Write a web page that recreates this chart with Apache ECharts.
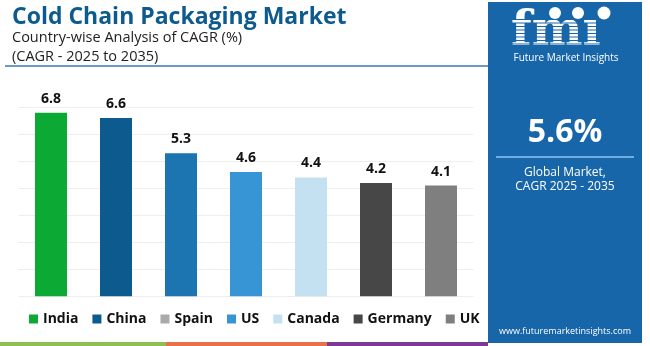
<!DOCTYPE html>
<html>
<head>
<meta charset="utf-8">
<script src="https://cdn.jsdelivr.net/npm/echarts@6/dist/echarts.min.js"></script>
<style>
html,body{margin:0;padding:0;background:#fff;}
#chart{width:650px;height:346px;}
</style>
</head>
<body>
<div id="chart"></div>
<script>
const categories = ['India', 'China', 'Spain', 'US', 'Canada', 'Germany', 'UK'];
const values = [6.8, 6.6, 5.3, 4.6, 4.4, 4.2, 4.1];
const barColors = ['#0caa35', '#0d5a8e', '#1c74b0', '#3795d6', '#c4e1f2', '#474747', '#7f7f7f'];
const legendColors = ['#0caa35', '#0d5a8e', '#aaaaaa', '#3795d6', '#c4e1f2', '#474747', '#7f7f7f'];
const yTicks = [0, 1, 2, 3, 4, 5, 6, 7];
const globalCagr = '5.6%';

const chart = echarts.init(document.getElementById('chart'));
const FONT = '"Open Sans", "DejaVu Sans", sans-serif';
const series = categories.map((c, i) => ({
  name: c,
  type: 'bar',
  barWidth: 32,
  barGap: '-100%',
  itemStyle: { color: barColors[i] },
  label: {
    show: true, position: 'top', distance: 7,
    color: '#111', fontWeight: 'bold', fontSize: 14, fontFamily: FONT,
    formatter: p => p.value.toFixed(1)
  },
  data: categories.map((_, j) => j === i ? values[i] : '-')
}));

const panelX = 488, panelW = 154, PC = '#1866aa';
const cx = panelX + panelW / 2;
const graphics = [
  { type: 'text', x: 12, y: 17, style: { text: 'Cold Chain Packaging Market', fill: '#0d5a8e', font: 'bold 23px ' + FONT, verticalAlign: 'middle' } },
  { type: 'text', x: 12, y: 38, style: { text: 'Country-wise Analysis of CAGR (%)', fill: '#222', font: '14.5px ' + FONT, verticalAlign: 'middle' } },
  { type: 'text', x: 12, y: 57, style: { text: '(CAGR - 2025 to 2035)', fill: '#222', font: '14.5px ' + FONT, verticalAlign: 'middle' } },
  { type: 'line', shape: { x1: 5, y1: 66, x2: panelX, y2: 66 }, style: { stroke: '#3a78b5', lineWidth: 1.5 } },
  { type: 'rect', shape: { x: panelX, y: 2, width: panelW, height: 341 }, style: { fill: PC } },
  { type: 'rect', shape: { x: 0, y: 342, width: 166, height: 4 }, style: { fill: '#8cc152' } },
  { type: 'rect', shape: { x: 166, y: 342, width: 161, height: 4 }, style: { fill: '#e8704a' } },
  { type: 'rect', shape: { x: 327, y: 342, width: 161, height: 4 }, style: { fill: '#7b3a96' } },
  // logo
  { type: 'text', x: 511, y: 33, style: { text: 'fm\u0131', fill: '#fff', font: 'bold 48px "DejaVu Serif", serif', verticalAlign: 'middle', letterSpacing: 3 } }
];
for (let y = 19; y <= 49; y += 3.5) {
  graphics.push({ type: 'rect', shape: { x: 508, y: y, width: 115, height: 1.1 }, style: { fill: PC } });
}
graphics.push(
  { type: 'circle', shape: { cx: 555, cy: 13, r: 6 }, style: { fill: '#fff' } },
  { type: 'circle', shape: { cx: 578, cy: 13, r: 6 }, style: { fill: '#fff' } },
  { type: 'circle', shape: { cx: 604, cy: 13, r: 6.5 }, style: { fill: '#fff' } },
  { type: 'text', x: 566, y: 58, style: { text: 'Future Market Insights', fill: '#fff', font: '10px ' + FONT, align: 'center', verticalAlign: 'middle' } },
  { type: 'text', x: cx, y: 133, style: { text: globalCagr, fill: '#fff', font: 'bold 32px ' + FONT, align: 'center', verticalAlign: 'middle' } },
  { type: 'line', shape: { x1: 496, y1: 157, x2: 634, y2: 157 }, style: { stroke: '#8ec5ee', lineWidth: 1.5 } },
  { type: 'text', x: cx, y: 173, style: { text: 'Global Market,', fill: '#fff', font: '12px ' + FONT, align: 'center', verticalAlign: 'middle' } },
  { type: 'text', x: cx, y: 187, style: { text: 'CAGR 2025 - 2035', fill: '#fff', font: '12px ' + FONT, align: 'center', verticalAlign: 'middle' } },
  { type: 'text', x: cx, y: 331, style: { text: 'www.futuremarketinsights.com', fill: '#fff', font: '9px ' + FONT, align: 'center', verticalAlign: 'middle' } }
);

chart.setOption({
  animation: false,
  backgroundColor: '#fff',
  grid: { left: 18.5, right: 176.5, top: 107.3, bottom: 49.7 },
  xAxis: {
    type: 'category', data: categories,
    axisLine: { show: false }, axisTick: { show: false }, axisLabel: { show: false }
  },
  yAxis: {
    type: 'value', min: yTicks[0], max: yTicks[yTicks.length - 1], interval: 1,
    axisLabel: { show: false }, axisLine: { show: false }, axisTick: { show: false },
    splitLine: { lineStyle: { color: '#eeeeee', width: 1 } }
  },
  legend: {
    left: 24, top: 307, icon: 'rect', itemWidth: 9, itemHeight: 9, itemGap: 14,
    textStyle: { color: '#111', fontWeight: 'bold', fontSize: 14, fontFamily: FONT },
    data: categories.map((c, i) => ({ name: c, itemStyle: { color: legendColors[i] } }))
  },
  series: series,
  graphic: graphics
});
</script>
</body>
</html>
